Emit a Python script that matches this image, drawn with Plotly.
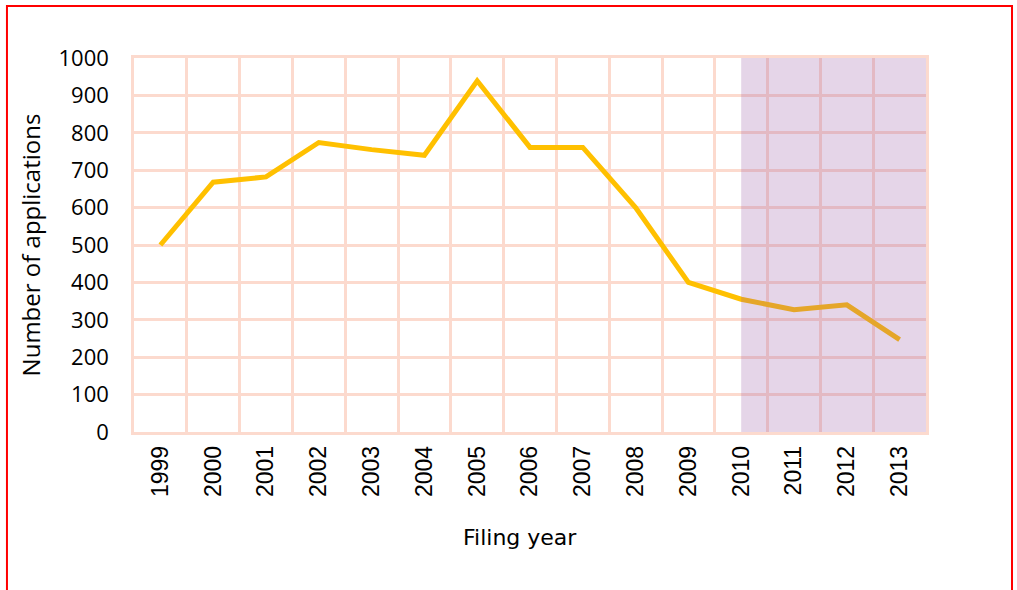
import plotly.graph_objects as go

# Data
years = [str(y) for y in range(1999, 2014)]
applications = [500, 668, 682, 774, 755, 740, 939, 761, 761, 600, 400, 355, 327, 340, 247]
shade_from = "2010"

fig = go.Figure()

fig.add_trace(
    go.Scatter(
        x=years,
        y=applications,
        mode="lines",
        line=dict(color="#FFC000", width=5),
        hoverinfo="x+y",
    )
)

# grid / axes
grid_col = "#FCDACE"
fig.update_xaxes(
    type="category",
    tickson="boundaries",
    range=[-0.5, len(years) - 0.5],
    showgrid=True,
    gridcolor=grid_col,
    gridwidth=2.5,
    showline=True,
    linecolor=grid_col,
    linewidth=2.5,
    mirror=True,
    zeroline=False,
    ticks="",
    ticklabelstandoff=2,
    tickangle=-90,
    tickfont=dict(family="Liberation Sans, Arial", size=23, color="#000"),
)
fig.update_yaxes(
    range=[0, 1000],
    dtick=100,
    showgrid=True,
    gridcolor=grid_col,
    gridwidth=2.5,
    showline=True,
    linecolor=grid_col,
    linewidth=2.5,
    mirror=True,
    zeroline=False,
    ticks="",
    ticklabelstandoff=18,
    tickfont=dict(family="Open Sans", size=22, color="#000"),
    title=dict(text="Number of applications", font=dict(family="Open Sans", size=24, color="#000"), standoff=12),
)

# x axis title, placed a little left of centre as in the original
fig.add_annotation(
    text="Filing year", xref="paper", yref="paper",
    x=0.487, y=-0.283, xanchor="center", yanchor="middle",
    showarrow=False, font=dict(family="DejaVu Sans", size=22, color="#000"),
)

# projected period shading (drawn over the line)
fig.add_shape(
    type="rect",
    xref="x", yref="y",
    x0=years.index(shade_from), x1=len(years) - 0.5,
    y0=0, y1=1000,
    fillcolor="rgba(151,87,163,0.25)",
    line=dict(width=0),
    layer="above",
)

# red frame around the figure
fig.add_shape(type="rect", xref="paper", yref="paper",
              x0=-0.1604, x1=1.1086, y0=-0.6, y1=1.139,
              line=dict(color="#FF0000", width=2), layer="above")

fig.update_layout(
    width=1017,
    height=590,
    margin=dict(l=134, r=91, t=58, b=158),
    plot_bgcolor="white",
    paper_bgcolor="white",
    showlegend=False,
)

fig.write_html("out.html", config={"displayModeBar": False},
               post_script="document.body.style.margin='0';")
